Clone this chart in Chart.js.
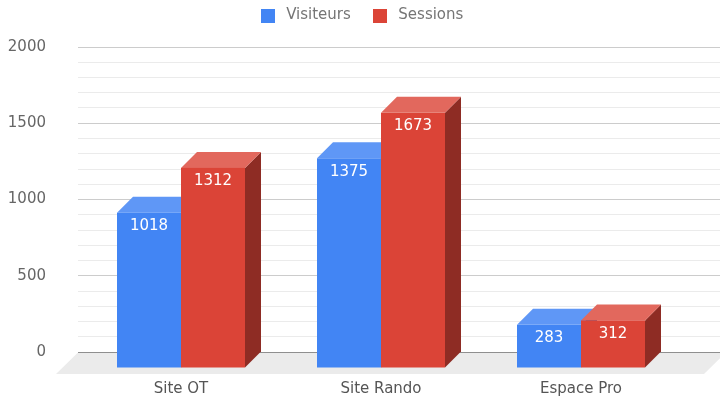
<!DOCTYPE html>
<html>
<head>
<meta charset="utf-8">
<script src="https://cdn.jsdelivr.net/npm/chart.js@4"></script>
<style>
  html, body { margin: 0; background: #fff; }
  #wrap { width: 720px; height: 400px; }
</style>
</head>
<body>
<div id="wrap"><canvas id="chart"></canvas></div>
<script>
const categories = ["Site OT", "Site Rando", "Espace Pro"];
const visiteurs = [1018, 1375, 283];
const sessions = [1312, 1673, 312];
const yTicks = [0, 500, 1000, 1500, 2000];

const DEPTH = 16; // 3d offset of the bars
const LEGEND_H = 57;
const faces = {
  Visiteurs: { front: "#4285f4", top: "#5f97f6", side: "#2f62b8" },
  Sessions: { front: "#db4437", top: "#e2685d", side: "#8e2c24" },
};

Chart.defaults.font.family = "'DejaVu Sans', Verdana, sans-serif";
Chart.defaults.font.size = 15;

function poly(ctx, color, pts) {
  ctx.fillStyle = color;
  ctx.beginPath();
  pts.forEach(([px, py], i) => (i ? ctx.lineTo(px, py) : ctx.moveTo(px, py)));
  ctx.closePath();
  ctx.fill();
}

function gridColor(c) {
  const v = c.tick.value;
  if (v === 0) return "#333333";
  return v % 500 === 0 ? "#cccccc" : "#ebebeb";
}

// square legend swatch, drawn as a point style
function swatch(color) {
  const c = document.createElement("canvas");
  c.width = 14;
  c.height = 14;
  const g = c.getContext("2d");
  g.fillStyle = color;
  g.fillRect(0, 0, 14, 14);
  return c;
}

// fixed legend height so the plot area starts where the reference does
const legendSpace = {
  id: "legendSpace",
  beforeLayout(chart) {
    const lg = chart.legend;
    if (lg && !lg._fixed) {
      const fit = lg.fit;
      lg.fit = function () {
        fit.call(this);
        this.height = LEGEND_H;
      };
      lg._fixed = true;
    }
  },
};

// draws the floor, the 3d bars and the value labels
const bars3d = {
  id: "bars3d",
  beforeDatasetsDraw(chart) {
    const { ctx, chartArea } = chart;
    const y0 = chart.scales.y.getPixelForValue(0);

    ctx.save();
    poly(ctx, "#ebebeb", [
      [chartArea.left - 3, y0 + 0.5],
      [chartArea.right + 45, y0 + 0.5],
      [chartArea.right + 23, y0 + 22],
      [chartArea.left - 25, y0 + 22],
    ]);

    const labels = [];
    categories.forEach((_, i) => {
      chart.data.datasets.forEach((ds, di) => {
        const bar = chart.getDatasetMeta(di).data[i];
        const { x, y, base, width } = bar.getProps(["x", "y", "base", "width"], true);
        const l = x - width / 2, r = x + width / 2;
        const t = y + DEPTH, b = base + DEPTH;
        const f = faces[ds.label];
        poly(ctx, f.side, [[r, t], [r + DEPTH, t - DEPTH], [r + DEPTH, b - DEPTH], [r, b]]);
        poly(ctx, f.top, [[l, t], [l + DEPTH, t - DEPTH], [r + DEPTH, t - DEPTH], [r, t]]);
        ctx.fillStyle = f.front;
        ctx.fillRect(l, t, width, b - t);
        labels.push([String(ds.data[i]), x, t + 13.5]);
      });
    });

    ctx.fillStyle = "#ffffff";
    ctx.font = "15px 'DejaVu Sans', Verdana, sans-serif";
    ctx.textAlign = "center";
    ctx.textBaseline = "middle";
    labels.forEach(([txt, lx, ly]) => ctx.fillText(txt, lx, ly));
    ctx.restore();
    return false; // skip the flat bars
  },
};

new Chart(document.getElementById("chart"), {
  type: "bar",
  data: {
    labels: categories,
    datasets: [
      { label: "Visiteurs", data: visiteurs, backgroundColor: faces.Visiteurs.front },
      { label: "Sessions", data: sessions, backgroundColor: faces.Sessions.front },
    ],
  },
  options: {
    responsive: true,
    maintainAspectRatio: false,
    animation: false,
    devicePixelRatio: 1,
    categoryPercentage: 0.64,
    barPercentage: 1,
    layout: { padding: { top: -10, left: 0, right: 0, bottom: 0 } },
    scales: {
      x: {
        border: { display: false },
        grid: { display: false, drawTicks: false },
        ticks: { color: "#555555", padding: 28 },
        afterFit(s) { s.height = 48; },
      },
      y: {
        min: 0,
        max: 2000,
        border: { display: false },
        grid: { color: gridColor, tickLength: 3 },
        ticks: {
          stepSize: 100,
          autoSkip: false,
          padding: 32,
          color: "#666666",
          callback: (v) => (yTicks.includes(v) ? String(v) : ""),
        },
        afterFit(s) { s.width = 81; },
      },
      y2: {
        position: "right",
        min: 0,
        max: 2000,
        border: { display: false },
        grid: { color: gridColor, tickLength: 39, drawOnChartArea: false },
        ticks: { stepSize: 100, autoSkip: false, display: false },
        afterFit(s) { s.width = 39; },
      },
    },
    plugins: {
      legend: {
        labels: {
          color: "#757575",
          padding: 18,
          usePointStyle: true,
          pointStyleWidth: 22,
          boxHeight: 14,
          generateLabels(chart) {
            return Chart.defaults.plugins.legend.labels.generateLabels(chart).map((item) => ({
              ...item,
              pointStyle: swatch(faces[item.text].front),
            }));
          },
        },
      },
      tooltip: { enabled: false },
    },
  },
  plugins: [legendSpace, bars3d],
});
</script>
</body>
</html>
